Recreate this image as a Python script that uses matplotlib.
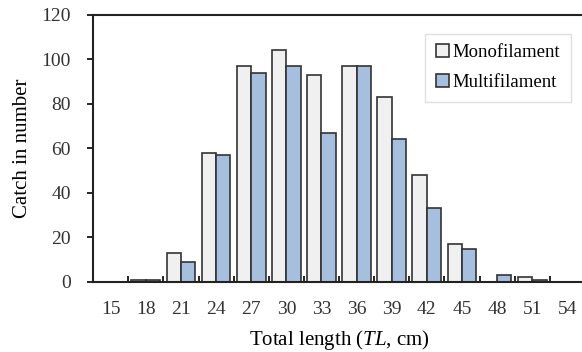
import numpy as np
import matplotlib.pyplot as plt

# Length classes (cm) and catch counts by net type
lengths = [15, 18, 21, 24, 27, 30, 33, 36, 39, 42, 45, 48, 51, 54]
mono = [0, 1, 13, 58, 97, 104, 93, 97, 83, 48, 17, 0, 2, 0]
multi = [0, 1, 9, 57, 94, 97, 67, 97, 64, 33, 15, 3, 1, 0]

plt.rcParams['font.family'] = ['Liberation Serif', 'DejaVu Serif']
plt.rcParams['mathtext.fontset'] = 'custom'
plt.rcParams['mathtext.it'] = 'Liberation Serif:italic'
plt.rcParams['mathtext.rm'] = 'Liberation Serif'

fig = plt.figure(figsize=(5.82, 3.52), dpi=100)
ax = fig.add_axes([0.160, 0.199, 0.845, 0.759])

x = np.arange(len(lengths))
w = 0.41
ax.bar(x - w / 2, mono, w, color='#f0f0f0', edgecolor='#333333', linewidth=1.2,
       label='Monofilament')
ax.bar(x + w / 2, multi, w, color='#a7bfdf', edgecolor='#333333', linewidth=1.2,
       label='Multifilament')

ax.set_xlim(-0.5, len(lengths) - 0.5)
ax.set_ylim(0, 120)
ax.set_yticks(range(0, 121, 20))
ax.set_xticks(x)
ax.set_xticklabels([str(v) for v in lengths])
ax.set_xticks(x[:-1] + 0.5, minor=True)
ax.tick_params(axis='x', which='major', length=0, pad=14, labelsize=14)
ax.tick_params(axis='x', which='minor', direction='in', length=4, width=1.2)
ax.tick_params(axis='y', direction='out', length=4, width=1.2, labelsize=14, pad=12)
for lbl in ax.get_yticklabels() + ax.get_xticklabels():
    lbl.set_color('#333333')

ax.spines['right'].set_visible(False)
for s in ['left', 'bottom', 'top']:
    ax.spines[s].set_linewidth(1.5)
    ax.spines[s].set_color('#222222')

ax.set_ylabel('Catch in number', fontsize=15, labelpad=7)
ax.set_xlabel('Total length ($\\mathit{TL}$, cm)', fontsize=15, labelpad=7)

leg = ax.legend(loc='upper right', bbox_to_anchor=(0.99, 0.965), fontsize=13.5,
                frameon=True, fancybox=False, edgecolor='#d8d8d8',
                handlelength=0.7, handleheight=0.7, handletextpad=0.2,
                labelspacing=0.7, borderpad=0.55)
leg.get_frame().set_linewidth(1.0)

fig.savefig('out.png', dpi=100)
